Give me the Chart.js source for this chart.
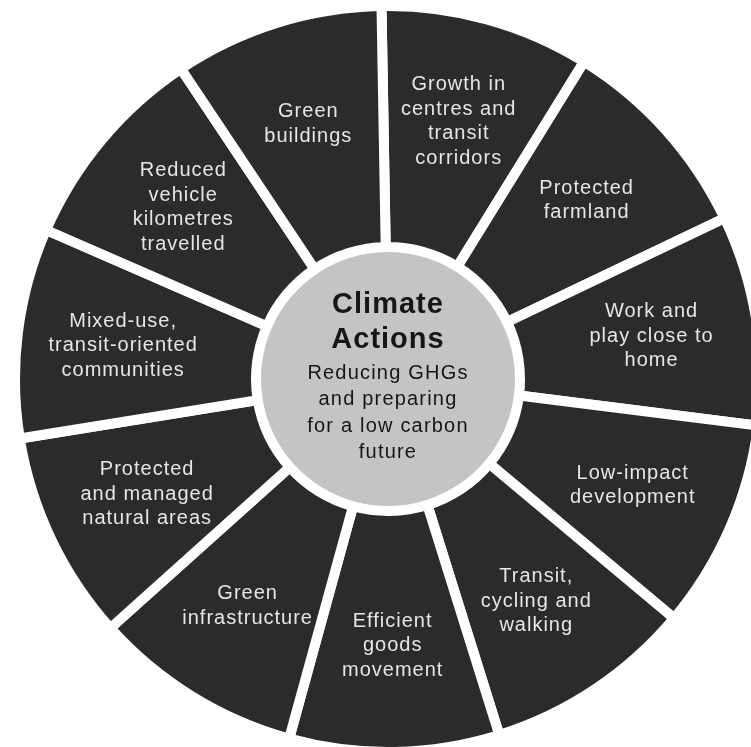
<!DOCTYPE html>
<html>
<head>
<meta charset="utf-8">
<script src="https://cdn.jsdelivr.net/npm/chart.js@4.4.1/dist/chart.umd.min.js"></script>
<style>
  html, body { margin: 0; padding: 0; background: #fff; overflow: hidden; width: 751px; height: 747px; }
  #wrap { position: absolute; left: 10px; top: 1px; width: 756px; height: 756px; }
</style>
</head>
<body>
<div id="wrap"><canvas id="wheel" width="756" height="756"></canvas></div>
<script>
// segments clockwise, starting just left of 12 o'clock
const categories = [
  ['Growth in', 'centres and', 'transit', 'corridors'],
  ['Protected', 'farmland'],
  ['Work and', 'play close to', 'home'],
  ['Low-impact', 'development'],
  ['Transit,', 'cycling and', 'walking'],
  ['Efficient', 'goods', 'movement'],
  ['Green', 'infrastructure'],
  ['Protected', 'and managed', 'natural areas'],
  ['Mixed-use,', 'transit-oriented', 'communities'],
  ['Reduced', 'vehicle', 'kilometres', 'travelled'],
  ['Green', 'buildings']
];
const shares = [1, 1, 1, 1, 1, 1, 1, 1, 1, 1, 1];
const centreTitle = ['Climate', 'Actions'];
const centreText = ['Reducing GHGs', 'and preparing', 'for a low carbon', 'future'];

const ctx = document.getElementById('wheel').getContext('2d');

// writes the labels inside each wedge and the text in the middle
const wheelLabels = {
  id: 'wheelLabels',
  afterDatasetsDraw(chart) {
    const c = chart.ctx;
    const arcs = chart.getDatasetMeta(0).data;
    c.save();
    c.textAlign = 'center';
    c.textBaseline = 'middle';
    c.fillStyle = '#e6e6e6';
    c.font = '20px "Liberation Sans", Arial, sans-serif';
    c.letterSpacing = '1px';
    arcs.forEach((arc, i) => {
      const p = arc.getProps(['x', 'y', 'startAngle', 'endAngle', 'innerRadius', 'outerRadius']);
      const mid = (p.startAngle + p.endAngle) / 2;
      const r = p.innerRadius + (p.outerRadius - p.innerRadius) * 0.56;
      const cx = p.x + Math.cos(mid) * r;
      const cy = p.y + Math.sin(mid) * r;
      const lines = categories[i];
      lines.forEach((t, j) => c.fillText(t, cx, cy + (j - (lines.length - 1) / 2) * 24.5));
    });

    const ox = arcs[0].x, oy = arcs[0].y;
    c.fillStyle = '#161616';
    c.font = 'bold 29px "Liberation Sans", Arial, sans-serif';
    c.letterSpacing = '1px';
    c.fillText(centreTitle[0], ox, oy - 74);
    c.fillText(centreTitle[1], ox, oy - 39);
    c.font = '20px "Liberation Sans", Arial, sans-serif';
    c.letterSpacing = '1.2px';
    centreText.forEach((t, j) => c.fillText(t, ox, oy - 6 + j * 26.5));
    c.restore();
  }
};

new Chart(ctx, {
  type: 'doughnut',
  data: {
    labels: categories.map(l => l.join(' ')),
    datasets: [
      {
        data: shares,
        backgroundColor: '#2b2b2b',
        borderColor: '#ffffff',
        borderWidth: 10,
        hoverOffset: 0,
        weight: 241
      },
      {
        data: [1],
        backgroundColor: '#c4c4c4',
        borderWidth: 0,
        hoverOffset: 0,
        weight: 132
      }
    ]
  },
  options: {
    responsive: false,
    animation: false,
    events: [],
    rotation: -1,
    cutout: 0,
    layout: { padding: 0 },
    plugins: {
      legend: { display: false },
      tooltip: { enabled: false }
    }
  },
  plugins: [wheelLabels]
});
</script>
</body>
</html>
